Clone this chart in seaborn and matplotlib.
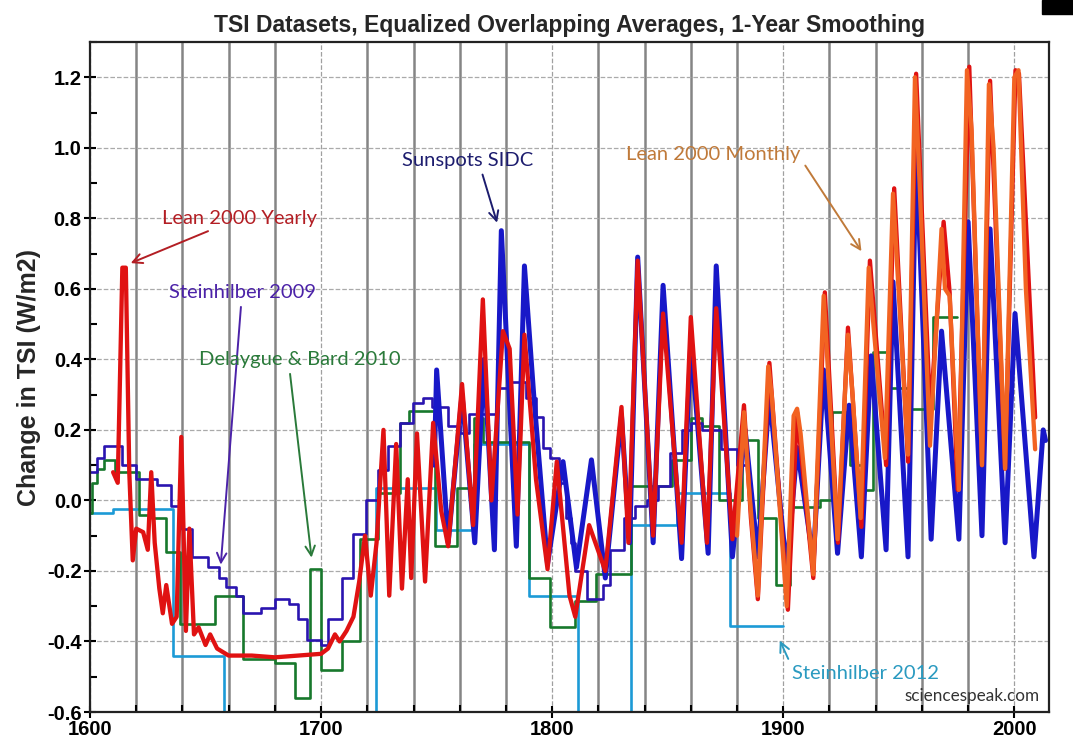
import matplotlib
matplotlib.use('Agg')
import matplotlib.pyplot as plt
import matplotlib.ticker as mticker
from matplotlib.patches import Rectangle
import seaborn as sns

# Sunspots SIDC (peaks and troughs)
sidc_years = [1749, 1750, 1755, 1761, 1766.5, 1770.5, 1775, 1778, 1784.5, 1788, 1792, 1798,
              1804.7, 1810.5, 1817, 1823, 1830, 1833.5, 1837, 1843.7, 1848, 1856, 1860, 1867.5,
              1871, 1878, 1883.5, 1889, 1894, 1901.5, 1906, 1913, 1917.5, 1923.5, 1928.5, 1933.8,
              1938, 1944.5, 1947.5, 1954, 1957.5, 1964, 1968.5, 1976, 1980, 1986, 1989.5, 1996,
              2000.3, 2008.5, 2012.5, 2013.5]
sidc_vals = [0.10, 0.37, -0.12, 0.30, -0.12, 0.40, -0.14, 0.765, -0.13, 0.665, 0.30, -0.18,
             0.11, -0.19, 0.115, -0.22, 0.24, -0.12, 0.69, -0.12, 0.61, -0.165, 0.45, -0.15,
             0.665, -0.16, 0.20, -0.16, 0.30, -0.20, 0.15, -0.17, 0.37, -0.15, 0.27, -0.16,
             0.41, -0.14, 0.62, -0.16, 1.00, -0.11, 0.48, -0.11, 0.79, -0.10, 0.77, -0.12,
             0.53, -0.16, 0.20, 0.17]

# Lean 2000 Yearly
lean_y_years = [1610, 1612, 1614, 1615.5, 1617, 1618.5, 1620, 1623, 1625, 1626.5, 1628, 1630,
                1631.5, 1633, 1635.5, 1637.5, 1639.5, 1641.5, 1643, 1645, 1647, 1650, 1652, 1655,
                1660, 1670, 1680, 1690, 1700, 1703, 1706, 1708, 1711, 1714, 1716.5, 1719, 1721.5,
                1724, 1727, 1729.5, 1732.5, 1735, 1737.5, 1739, 1741.5, 1745, 1748.5, 1752, 1755,
                1761, 1765.8, 1770, 1773.7, 1778.7, 1781.6, 1785, 1788, 1793, 1798, 1802, 1807.5,
                1810, 1816, 1823, 1830, 1833, 1837, 1843.7, 1848, 1856, 1860, 1867, 1871, 1878,
                1883, 1886, 1889, 1894, 1902, 1906, 1913, 1918, 1923.7, 1928, 1933.8, 1937.5,
                1944.5, 1948, 1954, 1957.5, 1963.6, 1969.4, 1972, 1975.5, 1980.5, 1986, 1989.5,
                1996, 2000.5, 2002, 2009]
lean_y_vals = [0.08, 0.05, 0.66, 0.66, 0.08, -0.17, -0.08, -0.09, -0.14, 0.08, -0.12, -0.25,
               -0.32, -0.24, -0.35, -0.33, 0.18, -0.37, -0.08, -0.38, -0.36, -0.41, -0.38, -0.42,
               -0.44, -0.44, -0.445, -0.44, -0.435, -0.42, -0.38, -0.40, -0.37, -0.33, -0.23, -0.10, -0.27,
               -0.12, 0.20, -0.27, 0.16, -0.25, 0.06, -0.22, 0.19, -0.23, 0.22, -0.03, -0.13,
               0.33, -0.07, 0.57, 0.0, 0.48, 0.43, -0.04, 0.47, 0.06, -0.195, 0.11, -0.27,
               -0.33, -0.07, -0.20, 0.265, -0.12, 0.68, -0.10, 0.53, -0.12, 0.52, -0.12, 0.545, -0.11,
               0.27, -0.05, -0.28, 0.39, -0.31, 0.25, -0.22, 0.59, -0.12, 0.49, -0.075, 0.68,
               0.10, 0.885, 0.11, 1.21, 0.245, 0.79, 0.59, 0.03, 1.23, 0.10, 1.19,
               0.09, 1.22, 1.21, 0.235]

# Lean 2000 Monthly
lean_m_years = [1880, 1883, 1885, 1889, 1893.5, 1895, 1901.5, 1904.5, 1906, 1907.5, 1913, 1917.5,
                1923.5, 1928, 1930, 1933.5, 1937, 1939, 1944, 1947.5, 1949, 1954, 1957, 1959,
                1963.5, 1968.5, 1970, 1972, 1976, 1979.5, 1981.5, 1986, 1989, 1991, 1996, 2000,
                2001.8, 2005, 2009]
lean_m_vals = [-0.10, 0.25, 0.05, -0.27, 0.38, 0.30, -0.30, 0.24, 0.26, 0.19, -0.21, 0.58,
               -0.11, 0.47, 0.30, -0.05, 0.66, 0.50, 0.12, 0.87, 0.70, 0.13, 1.20, 0.90,
               0.155, 0.77, 0.60, 0.58, 0.03, 1.22, 1.05, 0.10, 1.18, 1.00, 0.09, 1.20,
               1.22, 0.60, 0.145]

# Steinhilber 2009 (steps)
st09_years = [1600, 1603, 1606, 1614, 1620, 1629, 1635, 1640, 1644, 1651, 1656, 1659, 1663, 1666,
              1674, 1680, 1686, 1690, 1694, 1700, 1703, 1709, 1714, 1719.5, 1724.5, 1729, 1734,
              1739.6, 1744, 1748, 1755, 1760, 1764, 1776, 1781.6, 1788.8, 1793, 1796, 1799, 1803,
              1806, 1808, 1810, 1815, 1822, 1825, 1831, 1836, 1841, 1846, 1851, 1856, 1860, 1865,
              1873, 1880, 1885]
st09_vals = [0.08, 0.12, 0.155, 0.10, 0.06, 0.045, -0.015, -0.08, -0.16, -0.19, -0.22, -0.245, -0.27, -0.32,
             -0.305, -0.28, -0.295, -0.335, -0.395, -0.41, -0.335, -0.22, -0.095, 0.0, 0.085, 0.155, 0.22,
             0.275, 0.29, 0.265, 0.21, 0.19, 0.245, 0.32, 0.335, 0.29, 0.237, 0.15, 0.12, 0.05,
             -0.05, -0.12, -0.20, -0.28, -0.24, -0.14, -0.05, -0.015, 0.0, 0.04, 0.135, 0.20, 0.22, 0.20,
             0.145, 0.10, 0.10]

# Delaygue & Bard 2010 (steps)
db10_years = [1600, 1601, 1603, 1606, 1611, 1621, 1627, 1633, 1639, 1654, 1666, 1680, 1688.5,
              1695, 1700, 1709, 1717, 1724.5, 1734, 1738, 1749.5, 1759, 1766, 1770, 1790, 1799,
              1810, 1819, 1834, 1852, 1860, 1865, 1872, 1882, 1889, 1897, 1903, 1916, 1921, 1929,
              1934, 1939, 1946, 1955, 1965, 1975]
db10_vals = [-0.035, 0.05, 0.09, 0.115, 0.08, -0.04, -0.05, -0.145, -0.35, -0.27, -0.45, -0.46, -0.56,
             -0.195, -0.48, -0.40, -0.11, 0.02, 0.22, 0.255, -0.13, 0.035, 0.235, 0.165, -0.22, -0.36,
             -0.285, -0.21, 0.04, 0.115, 0.235, 0.21, 0.0, 0.17, -0.05, -0.24, -0.02, 0.0, 0.25, 0.10,
             0.03, 0.42, 0.32, 0.26, 0.52, 0.52]

# Steinhilber 2012 (steps)
st12_years = [1600, 1610, 1636, 1658, 1723.8, 1749.7, 1766, 1790, 1811, 1834, 1854, 1877, 1900]
st12_vals = [-0.035, -0.025, -0.44, -0.70, 0.035, -0.085, 0.16, -0.27, -0.70, -0.07, 0.02, -0.355, -0.355]

y_ticks = [-0.6, -0.4, -0.2, 0.0, 0.2, 0.4, 0.6, 0.8, 1.0, 1.2]
x_ticks = [1600, 1700, 1800, 1900, 2000]

sns.set_style('white')
plt.rcParams['font.family'] = ['Liberation Sans', 'DejaVu Sans']

fig = plt.figure(figsize=(10.73, 7.46), dpi=100)
ax = fig.add_axes([90 / 1073, 34 / 746, (1049 - 90) / 1073, (712 - 42) / 746])

# grid
ax.set_xticks(x_ticks)
ax.xaxis.set_minor_locator(mticker.MultipleLocator(20))
ax.set_yticks(y_ticks)
ax.yaxis.set_minor_locator(mticker.MultipleLocator(0.1))
ax.grid(which='major', axis='x', color='#a0a0a0', linestyle='--', linewidth=0.9, zorder=0)
ax.grid(which='minor', axis='x', color='#858585', linestyle='-', linewidth=1.8, zorder=0)
ax.grid(which='major', axis='y', color='#aaaaaa', linestyle='--', linewidth=0.9, zorder=0)

sns.lineplot(x=st12_years, y=st12_vals, ax=ax, color='#1c9ad6', linewidth=1.9, drawstyle='steps-post')
sns.lineplot(x=db10_years, y=db10_vals, ax=ax, color='#17782c', linewidth=1.9, drawstyle='steps-post')
sns.lineplot(x=st09_years, y=st09_vals, ax=ax, color='#2a14b0', linewidth=1.9, drawstyle='steps-post')
sns.lineplot(x=sidc_years, y=sidc_vals, ax=ax, color='#1818c8', linewidth=3.6,
             solid_joinstyle='round')
sns.lineplot(x=lean_y_years, y=lean_y_vals, ax=ax, color='#e01212', linewidth=3.1,
             solid_joinstyle='round')
sns.lineplot(x=lean_m_years, y=lean_m_vals, ax=ax, color='#f26322', linewidth=3.1,
             solid_joinstyle='round')

ax.set_xlim(1600, 2015)
ax.set_ylim(-0.6, 1.3)
ax.set_xlabel('')
ax.set_ylabel('Change in TSI (W/m2)', fontsize=18, fontweight='bold', labelpad=4)
ax.set_title('TSI Datasets, Equalized Overlapping Averages, 1-Year Smoothing',
             fontsize=16.5, fontweight='bold', pad=7)

ax.set_yticklabels(['%.1f' % v for v in y_ticks])
for lab, v in zip(ax.get_yticklabels(), y_ticks):
    lab.set_color('#8c1c1c' if v < 0 else 'black')
    lab.set_fontweight('bold')
    lab.set_fontsize(14.5)
for lab in ax.get_xticklabels():
    lab.set_fontweight('bold')
    lab.set_fontsize(14.5)

ax.tick_params(which='major', direction='inout', length=8, width=1.5, colors='black', pad=2)
ax.tick_params(which='minor', direction='in', length=5, width=1.5, colors='black')
ax.tick_params(axis='both', which='both', left=True, bottom=True)
for sp in ax.spines.values():
    sp.set_color('#222222')
    sp.set_linewidth(1.6)

afont = ['Lato', 'DejaVu Sans']
afs = 14.5
ax.annotate('Lean 2000 Yearly', xy=(1616.5, 0.67), xytext=(1631, 0.80), color='#b31e24',
            fontsize=afs, family=afont, va='center', ha='left',
            arrowprops=dict(arrowstyle='->', color='#b31e24', lw=1.4, mutation_scale=17))
ax.annotate('Steinhilber 2009', xy=(1656.5, -0.19), xytext=(1634, 0.59), color='#4b22a8',
            fontsize=afs, family=afont, va='center', ha='left',
            arrowprops=dict(arrowstyle='->', color='#4b22a8', lw=1.4, mutation_scale=17))
ax.annotate('Delaygue & Bard 2010', xy=(1696, -0.17), xytext=(1647, 0.40), color='#2a7a3a',
            fontsize=afs, family=afont, va='center', ha='left',
            arrowprops=dict(arrowstyle='->', color='#2a7a3a', lw=1.4, mutation_scale=17,
                            relpos=(0.45, 0.0)))
ax.annotate('Sunspots SIDC', xy=(1776.5, 0.78), xytext=(1735, 0.965), color='#1c1c6e',
            fontsize=afs, family=afont, va='center', ha='left',
            arrowprops=dict(arrowstyle='->', color='#1c1c6e', lw=1.4, mutation_scale=17,
                            relpos=(0.6, 0.0)))
ax.annotate('Lean 2000 Monthly', xy=(1934.5, 0.70), xytext=(1832, 0.98), color='#c07a3a',
            fontsize=afs, family=afont, va='center', ha='left',
            arrowprops=dict(arrowstyle='->', color='#c07a3a', lw=1.4, mutation_scale=17,
                            relpos=(1.0, 0.3)))
ax.annotate('Steinhilber 2012', xy=(1898, -0.39), xytext=(1904, -0.49), color='#2a9ac0',
            fontsize=afs, family=afont, va='center', ha='left',
            arrowprops=dict(arrowstyle='->', color='#2a9ac0', lw=1.4, mutation_scale=17,
                            relpos=(0.0, 0.8)))
ax.text(2011, -0.555, 'sciencespeak.com', fontsize=12.3, family=afont, color='#333333',
        ha='right', va='center')

fig.patches.append(Rectangle((1042 / 1073, 1 - 14 / 746), 31 / 1073, 14 / 746,
                             transform=fig.transFigure, color='black', zorder=5))

fig.savefig('out.png', dpi=100)
